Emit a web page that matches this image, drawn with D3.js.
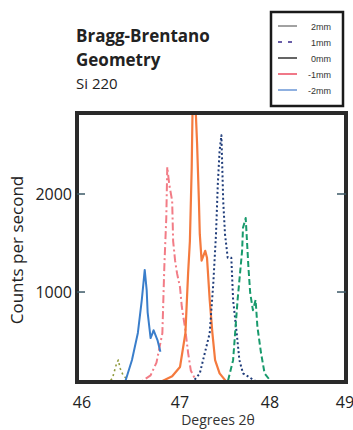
<!DOCTYPE html>
<html>
<head>
<meta charset="utf-8">
<script src="https://cdn.jsdelivr.net/npm/d3@7"></script>
<style>
  body { margin: 0; background: #fff; }
  svg { display: block; font-family: "Open Sans", Lato, sans-serif; }
</style>
</head>
<body>
<svg id="chart" width="353" height="430"></svg>
<script>
// series: [2theta, counts]
const minus2mm = [[46.40,60],[46.44,82],[46.51,306],[46.57,582],[46.61,918],[46.64,1225],[46.66,1020],[46.67,790],[46.70,530],[46.72,580],[46.73,610],[46.77,510],[46.80,390]];
const minus1mm = [[46.50,60],[46.60,82],[46.70,150],[46.76,280],[46.82,580],[46.84,1255],[46.86,1755],[46.87,2275],[46.89,2100],[46.92,1930],[46.93,1520],[46.95,1320],[46.97,1190],[47.00,1050],[47.02,850],[47.06,610],[47.09,380],[47.12,200],[47.18,90],[47.25,60]];
const zeromm = [[46.70,60],[46.80,82],[46.92,140],[47.00,235],[47.06,580],[47.09,1190],[47.11,1520],[47.13,2265],[47.14,2900],[47.155,3050],[47.17,2950],[47.19,2510],[47.21,1930],[47.22,1590],[47.24,1320],[47.28,1420],[47.30,1350],[47.33,920],[47.36,580],[47.39,305],[47.44,170],[47.52,80],[47.60,60]];
const plus1mm = [[47.08,60],[47.14,82],[47.22,170],[47.33,580],[47.37,1090],[47.40,1590],[47.42,2100],[47.44,2440],[47.46,2600],[47.47,2265],[47.48,1930],[47.50,1590],[47.53,1350],[47.57,1350],[47.58,1140],[47.59,920],[47.63,580],[47.66,305],[47.70,170],[47.86,80],[47.95,60]];
const plus2mm = [[47.45,60],[47.53,82],[47.59,305],[47.64,920],[47.69,1420],[47.70,1655],[47.73,1755],[47.74,1590],[47.76,1255],[47.78,990],[47.81,815],[47.84,920],[47.86,645],[47.90,380],[47.94,170],[48.02,80],[48.10,60]];
const minorPeak = [[46.26,60],[46.31,120],[46.35,260],[46.37,306],[46.39,220],[46.42,150],[46.46,110],[46.50,70]];

const xTicks = [46, 47, 48, 49];
const yTicks = [1000, 2000];
const legendLabels = ["2mm", "1mm", "0mm", "-1mm", "-2mm"];

const svg = d3.select("#chart");
const pLeft = 77, pRight = 346, pTop = 113, pBottom = 382;

// tick labels in the figure are not evenly spaced, so the scale is piecewise
const x = d3.scaleLinear().domain([46, 47, 48, 49]).range([82, 180, 270, 345]);
const y = d3.scaleLinear().domain([82, 2000]).range([pBottom, 194]);

svg.append("clipPath").attr("id", "plotClip")
  .append("rect").attr("x", pLeft).attr("y", pTop).attr("width", pRight - pLeft).attr("height", pBottom - pTop);

const line = d3.line().x(d => x(d[0])).y(d => y(d[1]));
const plot = svg.append("g").attr("clip-path", "url(#plotClip)");

const series = [
  { data: minorPeak, color: "#8f9a3c", dash: "2,3", w: 1.6 },
  { data: minus1mm, color: "#f27c86", dash: "8,3,2,3", w: 2 },
  { data: zeromm, color: "#f47a3e", dash: null, w: 2.2 },
  { data: plus1mm, color: "#1f3c7a", dash: "2,2.5", w: 2 },
  { data: plus2mm, color: "#189a6c", dash: "6,3", w: 2 },
  { data: minus2mm, color: "#3a7ecb", dash: null, w: 2 }
];

series.forEach(s => {
  plot.append("path")
    .datum(s.data)
    .attr("d", line)
    .attr("fill", "none")
    .attr("stroke", s.color)
    .attr("stroke-width", s.w)
    .attr("stroke-linejoin", "round")
    .attr("stroke-dasharray", s.dash);
});

// frame
svg.append("rect")
  .attr("x", pLeft).attr("y", pTop).attr("width", pRight - pLeft).attr("height", pBottom - pTop)
  .attr("fill", "none").attr("stroke", "#2a2a2a").attr("stroke-width", 4);

// y ticks on both sides, pointing in
yTicks.forEach(t => {
  svg.append("line").attr("x1", pLeft).attr("x2", pLeft + 8).attr("y1", y(t)).attr("y2", y(t))
    .attr("stroke", "#3b5866").attr("stroke-width", 1.5);
  svg.append("line").attr("x1", pRight - 9).attr("x2", pRight).attr("y1", y(t)).attr("y2", y(t))
    .attr("stroke", "#3b5866").attr("stroke-width", 1.5);
  svg.append("text").attr("x", 72).attr("y", y(t) + 5.5)
    .attr("text-anchor", "end").attr("font-size", 16).attr("fill", "#222").text(t);
});

xTicks.forEach(t => {
  svg.append("text").attr("x", x(t)).attr("y", 408)
    .attr("text-anchor", "middle").attr("font-size", 16).attr("fill", "#222").text(t);
});

svg.append("text").attr("x", 218).attr("y", 425)
  .attr("text-anchor", "middle").attr("font-size", 14).attr("fill", "#333").text("Degrees 2θ");

svg.append("text")
  .attr("transform", "translate(23,250) rotate(-90)")
  .attr("text-anchor", "middle").attr("font-size", 17).attr("fill", "#222").text("Counts per second");

// title block
svg.append("text").attr("x", 76).attr("y", 42).attr("font-size", 17).attr("font-weight", "bold").attr("fill", "#222").text("Bragg-Brentano");
svg.append("text").attr("x", 76).attr("y", 66).attr("font-size", 17).attr("font-weight", "bold").attr("fill", "#222").text("Geometry");
svg.append("text").attr("x", 76).attr("y", 89).attr("font-size", 15).attr("fill", "#222").text("Si 220");

// legend
svg.append("rect").attr("x", 271).attr("y", 12).attr("width", 72).attr("height", 94)
  .attr("fill", "#fff").attr("stroke", "#1a1a1a").attr("stroke-width", 2.5);

const legendStyles = [
  { color: "#444", dash: null, w: 1 },
  { color: "#6a5fa8", dash: "4,6", w: 2 },
  { color: "#111", dash: null, w: 1.3 },
  { color: "#f07888", dash: null, w: 2 },
  { color: "#8fb0e0", dash: null, w: 2 }
];
const ly = d3.scalePoint().domain(legendLabels).range([26, 90]);

legendLabels.forEach((lab, i) => {
  const st = legendStyles[i];
  svg.append("line").attr("x1", 278).attr("x2", 297).attr("y1", ly(lab)).attr("y2", ly(lab))
    .attr("stroke", st.color).attr("stroke-width", st.w).attr("stroke-dasharray", st.dash);
  svg.append("text").attr("x", 331).attr("y", ly(lab) + 3.5)
    .attr("text-anchor", "end").attr("font-size", 9).attr("font-family", "Liberation Sans, Arial, sans-serif")
    .attr("fill", "#333").text(lab);
});
</script>
</body>
</html>
